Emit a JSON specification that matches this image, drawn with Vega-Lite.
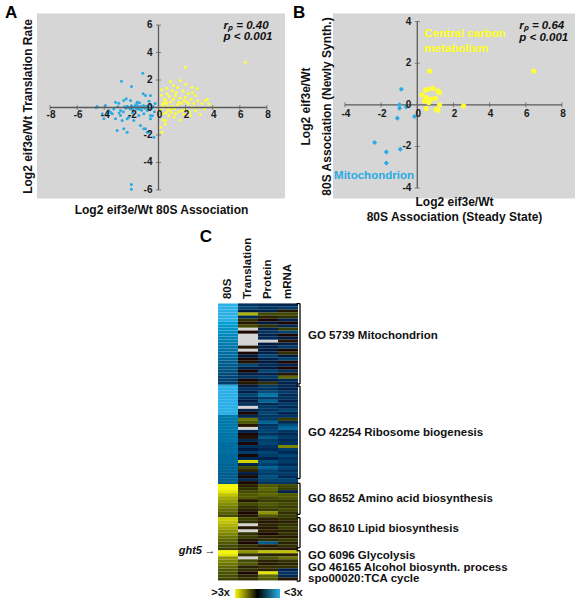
{
"$schema": "https://vega.github.io/schema/vega-lite/v6.json",
"padding": {"left": 5, "top": 3.5, "right": 0, "bottom": 0},
"bounds": "flush",
"spacing": 289.5,
"config": {"font": "Liberation Sans", "view": {"stroke": null}, "axis": {"domain": false, "ticks": false, "labels": false, "grid": false, "titleFontSize": 12, "titleFontWeight": "bold", "titleColor": "#111"}},
"datasets": {
"ptsA": [
{"x":-4.6,"y":0.0,"g":"d"},{"x":-4.52,"y":0.07,"g":"d"},{"x":-4.15,"y":-0.46,"g":"d"},{"x":-4.03,"y":-0.82,"g":"d"},{"x":-3.91,"y":0.15,"g":"d"},{"x":-3.78,"y":-0.46,"g":"d"},{"x":-3.67,"y":-0.22,"g":"d"},{"x":-3.54,"y":-0.34,"g":"d"},{"x":-3.41,"y":-0.46,"g":"d"},{"x":-3.17,"y":0.39,"g":"d"},{"x":-3.17,"y":-0.82,"g":"d"},{"x":-3.05,"y":-1.67,"g":"d"},{"x":-2.93,"y":0.31,"g":"d"},{"x":-2.8,"y":-0.58,"g":"d"},{"x":-2.8,"y":-0.22,"g":"d"},{"x":-2.73,"y":1.91,"g":"d"},{"x":-2.68,"y":-0.95,"g":"d"},{"x":-2.56,"y":0.51,"g":"d"},{"x":-2.56,"y":-1.55,"g":"d"},{"x":-2.38,"y":0.63,"g":"d"},{"x":-2.31,"y":-0.82,"g":"d"},{"x":-2.31,"y":-1.8,"g":"d"},{"x":-2.19,"y":-0.7,"g":"d"},{"x":-2.06,"y":0.51,"g":"d"},{"x":-1.99,"y":1.53,"g":"d"},{"x":-1.94,"y":0.02,"g":"d"},{"x":-1.82,"y":-0.95,"g":"d"},{"x":-1.57,"y":0.39,"g":"d"},{"x":-1.57,"y":-0.1,"g":"d"},{"x":-1.45,"y":-0.58,"g":"d"},{"x":-1.33,"y":-1.31,"g":"d"},{"x":-1.2,"y":0.02,"g":"d"},{"x":-1.16,"y":2.5,"g":"d"},{"x":-1.13,"y":1.0,"g":"d"},{"x":-1.08,"y":-0.46,"g":"d"},{"x":-1.08,"y":-1.55,"g":"d"},{"x":-0.96,"y":0.87,"g":"d"},{"x":-0.96,"y":-1.55,"g":"d"},{"x":-0.83,"y":-0.22,"g":"d"},{"x":-0.83,"y":-1.8,"g":"d"},{"x":-0.72,"y":-1.8,"g":"d"},{"x":-0.59,"y":0.87,"g":"d"},{"x":-0.59,"y":-0.58,"g":"d"},{"x":-0.59,"y":-0.82,"g":"d"},{"x":-0.34,"y":-2.16,"g":"d"},{"x":-2.0,"y":-5.6,"g":"d"},{"x":-2.0,"y":-5.95,"g":"d"},
{"x":-2.5,"y":0.05,"g":"d"},{"x":-2.4,"y":-0.05,"g":"d"},{"x":-2.3,"y":0.1,"g":"d"},{"x":-2.2,"y":0.0,"g":"d"},{"x":-2.1,"y":-0.1,"g":"d"},{"x":-2.0,"y":0.12,"g":"d"},{"x":-1.9,"y":-0.15,"g":"d"},{"x":-1.8,"y":0.05,"g":"d"},{"x":-1.7,"y":0.15,"g":"d"},{"x":-1.65,"y":-0.05,"g":"d"},{"x":-1.5,"y":0.1,"g":"d"},{"x":-1.4,"y":-0.12,"g":"d"},{"x":-1.3,"y":0.08,"g":"d"},{"x":-1.25,"y":-0.2,"g":"d"},{"x":-1.1,"y":0.15,"g":"d"},{"x":-1.0,"y":-0.05,"g":"d"},{"x":-0.9,"y":0.1,"g":"d"},{"x":-0.8,"y":0.02,"g":"d"},{"x":-0.7,"y":-0.1,"g":"d"},{"x":-0.6,"y":0.2,"g":"d"},{"x":-0.5,"y":-0.05,"g":"d"},{"x":-0.4,"y":0.08,"g":"d"},{"x":-0.3,"y":-0.3,"g":"d"},{"x":-0.25,"y":0.3,"g":"d"},{"x":-1.6,"y":0.3,"g":"d"},{"x":-1.4,"y":0.35,"g":"d"},{"x":-2.6,"y":-0.3,"g":"d"},{"x":-1.9,"y":-0.4,"g":"d"},{"x":-0.7,"y":0.45,"g":"d"},{"x":-0.45,"y":-0.6,"g":"d"},{"x":-3.3,"y":-0.1,"g":"d"},{"x":-3.0,"y":0.05,"g":"d"},{"x":-2.9,"y":-0.4,"g":"d"},
{"x":6.42,"y":3.3,"g":"u"},{"x":1.99,"y":2.93,"g":"u"},{"x":1.62,"y":1.96,"g":"u"},{"x":2.48,"y":1.48,"g":"u"},{"x":2.85,"y":1.36,"g":"u"},{"x":1.01,"y":1.24,"g":"u"},{"x":0.64,"y":1.0,"g":"u"},{"x":1.25,"y":0.87,"g":"u"},{"x":1.99,"y":0.75,"g":"u"},{"x":2.73,"y":0.87,"g":"u"},{"x":0.52,"y":0.51,"g":"u"},{"x":1.5,"y":0.39,"g":"u"},{"x":2.23,"y":0.27,"g":"u"},{"x":3.47,"y":0.51,"g":"u"},{"x":3.71,"y":0.27,"g":"u"},{"x":4.08,"y":0.02,"g":"u"},{"x":0.39,"y":0.02,"g":"u"},{"x":0.88,"y":-0.1,"g":"u"},{"x":1.75,"y":-0.22,"g":"u"},{"x":2.48,"y":0.02,"g":"u"},{"x":0.27,"y":-0.46,"g":"u"},{"x":0.52,"y":-0.95,"g":"u"},{"x":0.15,"y":-1.43,"g":"u"},{"x":0.27,"y":-1.8,"g":"u"},{"x":0.76,"y":-0.58,"g":"u"},{"x":1.25,"y":-0.46,"g":"u"},{"x":2.36,"y":-0.58,"g":"u"},{"x":2.73,"y":-0.22,"g":"u"},
{"x":0.3,"y":0.2,"g":"u"},{"x":0.45,"y":0.6,"g":"u"},{"x":0.6,"y":0.3,"g":"u"},{"x":0.7,"y":-0.2,"g":"u"},{"x":0.8,"y":0.8,"g":"u"},{"x":0.9,"y":0.4,"g":"u"},{"x":1.0,"y":0.1,"g":"u"},{"x":1.1,"y":0.6,"g":"u"},{"x":1.2,"y":-0.1,"g":"u"},{"x":1.3,"y":1.1,"g":"u"},{"x":1.4,"y":0.2,"g":"u"},{"x":1.5,"y":-0.3,"g":"u"},{"x":1.6,"y":0.7,"g":"u"},{"x":1.7,"y":0.3,"g":"u"},{"x":1.8,"y":1.2,"g":"u"},{"x":1.9,"y":0.5,"g":"u"},{"x":2.0,"y":-0.1,"g":"u"},{"x":2.1,"y":0.4,"g":"u"},{"x":2.2,"y":1.0,"g":"u"},{"x":2.3,"y":-0.3,"g":"u"},{"x":2.4,"y":0.6,"g":"u"},{"x":2.6,"y":0.3,"g":"u"},{"x":2.9,"y":0.5,"g":"u"},{"x":3.0,"y":0.0,"g":"u"},{"x":3.2,"y":0.3,"g":"u"},{"x":3.4,"y":-0.1,"g":"u"},{"x":3.6,"y":0.6,"g":"u"},{"x":1.1,"y":1.6,"g":"u"},{"x":0.9,"y":1.9,"g":"u"},{"x":1.4,"y":1.45,"g":"u"},{"x":2.0,"y":1.7,"g":"u"},{"x":0.35,"y":-0.9,"g":"u"},{"x":0.5,"y":-1.2,"g":"u"},{"x":0.6,"y":1.4,"g":"u"},{"x":0.2,"y":0.9,"g":"u"},{"x":0.15,"y":-0.2,"g":"u"},{"x":0.55,"y":-0.4,"g":"u"},{"x":1.15,"y":-0.7,"g":"u"},{"x":1.85,"y":-0.5,"g":"u"},{"x":3.1,"y":-0.5,"g":"u"},{"x":0.25,"y":1.3,"g":"u"},{"x":0.7,"y":0.05,"g":"u"},{"x":1.6,"y":-0.9,"g":"u"},{"x":2.5,"y":1.1,"g":"u"},{"x":0.4,"y":0.35,"g":"u"},{"x":0.95,"y":-0.35,"g":"u"}
],
"ptsB": [
{"x":-0.98,"y":0.0,"g":"d"},{"x":-0.98,"y":-0.16,"g":"d"},{"x":-0.61,"y":-0.1,"g":"d"},{"x":-1.1,"y":-0.64,"g":"d"},{"x":-0.15,"y":-0.56,"g":"d"},{"x":-0.88,"y":0.75,"g":"d"},{"x":-2.36,"y":-1.81,"g":"d"},{"x":-1.71,"y":-2.26,"g":"d"},{"x":-1.71,"y":-2.8,"g":"d"},{"x":-0.94,"y":-2.13,"g":"d"},
{"x":0.68,"y":1.63,"g":"u"},{"x":6.43,"y":1.63,"g":"u"},{"x":0.46,"y":0.71,"g":"u"},{"x":0.59,"y":0.75,"g":"u"},{"x":0.87,"y":0.8,"g":"u"},{"x":1.14,"y":0.67,"g":"u"},{"x":0.26,"y":0.48,"g":"u"},{"x":0.5,"y":0.35,"g":"u"},{"x":0.77,"y":0.27,"g":"u"},{"x":1.0,"y":0.32,"g":"u"},{"x":0.63,"y":0.11,"g":"u"},{"x":0.4,"y":0.19,"g":"u"},{"x":1.23,"y":0.0,"g":"u"},{"x":1.05,"y":-0.21,"g":"u"},{"x":1.14,"y":-0.26,"g":"u"},{"x":0.5,"y":-0.18,"g":"u"},{"x":2.56,"y":-0.05,"g":"u"},{"x":1.23,"y":0.59,"g":"u"}
],
"hm": [
{"r":0,"a":-1.6,"t":-0.4,"p":-0.3,"m":-0.2},{"r":1,"a":-1.6,"t":-0.6,"p":-0.4,"m":-0.5},{"r":2,"a":-1.6,"t":-0.1,"p":-0.2,"m":0.1},{"r":3,"a":-1.6,"t":1.2,"p":0.5,"m":0.5},{"r":4,"a":-1.6,"t":-0.3,"p":0.2,"m":0.3},{"r":5,"a":-1.6,"t":0.3,"p":0.0,"m":-0.2},{"r":6,"a":-1.45,"t":0.1,"p":-0.1,"m":0.0},{"r":7,"a":-1.4,"t":0.5,"p":0.3,"m":-0.3},{"r":8,"a":-1.35,"t":null,"p":-0.2,"m":0.4},{"r":9,"a":-1.3,"t":0.0,"p":-0.4,"m":-0.6},
{"r":10,"a":-1.25,"t":null,"p":-0.2,"m":0.0},{"r":11,"a":-1.2,"t":null,"p":-0.3,"m":-0.1},{"r":12,"a":-1.16,"t":null,"p":null,"m":0.1},{"r":13,"a":-1.12,"t":null,"p":-0.1,"m":-0.2},{"r":14,"a":-1.08,"t":0.1,"p":-0.2,"m":-0.5},{"r":15,"a":-1.04,"t":null,"p":-0.1,"m":0.0},{"r":16,"a":-1.0,"t":0.0,"p":-0.2,"m":0.3},{"r":17,"a":-0.95,"t":-0.1,"p":-0.6,"m":-0.1},{"r":18,"a":-0.9,"t":0.0,"p":-0.2,"m":-0.6},{"r":19,"a":-0.85,"t":0.05,"p":-0.1,"m":0.0},
{"r":20,"a":-0.8,"t":-0.6,"p":-0.3,"m":-0.2},{"r":21,"a":-0.75,"t":-0.1,"p":-0.1,"m":0.0},{"r":22,"a":-0.7,"t":0.0,"p":-0.6,"m":-0.4},{"r":23,"a":-0.65,"t":-0.2,"p":-0.2,"m":0.1},{"r":24,"a":-0.6,"t":-0.4,"p":-0.5,"m":0.7},{"r":25,"a":-0.55,"t":0.0,"p":-0.1,"m":-0.3},{"r":26,"a":-0.5,"t":0.1,"p":0.3,"m":-0.2},
{"r":27,"a":-1.6,"t":-0.1,"p":-0.5,"m":-0.3},{"r":28,"a":-1.6,"t":-0.4,"p":-0.4,"m":-0.2},{"r":29,"a":-1.6,"t":-0.2,"p":-0.7,"m":-0.5},{"r":30,"a":-1.6,"t":-0.6,"p":-1.1,"m":-0.3},{"r":31,"a":-1.6,"t":-0.3,"p":-0.5,"m":-0.4},{"r":32,"a":-1.6,"t":-0.1,"p":-0.9,"m":-0.2},{"r":33,"a":-1.6,"t":-0.4,"p":-0.3,"m":-0.5},{"r":34,"a":-1.6,"t":null,"p":-0.5,"m":-0.3},{"r":35,"a":-1.6,"t":-0.2,"p":-0.4,"m":-0.6},{"r":36,"a":-1.6,"t":0.0,"p":-0.6,"m":-0.2},
{"r":37,"a":-1.1,"t":-0.3,"p":-0.4,"m":-0.4},{"r":38,"a":-1.1,"t":0.8,"p":-0.5,"m":0.4},{"r":39,"a":-1.1,"t":0.6,"p":-0.9,"m":-0.3},{"r":40,"a":-1.1,"t":0.1,"p":-0.4,"m":-0.7},{"r":41,"a":-1.1,"t":null,"p":-0.5,"m":-1.0},{"r":42,"a":-1.1,"t":-0.2,"p":-0.6,"m":-0.4},{"r":43,"a":-1.05,"t":0.0,"p":-0.4,"m":-0.3},{"r":44,"a":-1.05,"t":0.05,"p":-0.8,"m":-0.5},{"r":45,"a":-1.05,"t":-0.3,"p":-0.5,"m":-0.3},{"r":46,"a":-1.0,"t":0.0,"p":-0.6,"m":-0.4},
{"r":47,"a":-1.0,"t":-0.4,"p":-0.4,"m":0.9},{"r":48,"a":-1.0,"t":-0.1,"p":-0.3,"m":-0.5},{"r":49,"a":-1.0,"t":-0.5,"p":-0.6,"m":-0.3},{"r":50,"a":-0.95,"t":0.0,"p":-0.5,"m":-0.6},{"r":51,"a":-0.95,"t":-0.3,"p":-0.2,"m":-0.4},{"r":52,"a":-0.95,"t":1.4,"p":-0.7,"m":-0.5},{"r":53,"a":-0.9,"t":-0.2,"p":-0.5,"m":-0.3},{"r":54,"a":-0.9,"t":0.5,"p":-0.9,"m":-0.6},{"r":55,"a":-0.9,"t":0.2,"p":-0.6,"m":-0.4},{"r":56,"a":-0.85,"t":-0.1,"p":-0.5,"m":-0.5},
{"r":57,"a":-0.85,"t":0.0,"p":-0.7,"m":-0.3},{"r":58,"a":-0.85,"t":-0.3,"p":-0.6,"m":-0.6},{"r":59,"a":-0.8,"t":0.0,"p":-0.4,"m":-0.4},
{"r":60,"a":1.6,"t":0.2,"p":0.6,"m":0.5},{"r":61,"a":1.6,"t":0.3,"p":0.7,"m":0.4},{"r":62,"a":1.5,"t":0.5,"p":0.6,"m":-0.2},{"r":63,"a":1.3,"t":0.6,"p":0.7,"m":0.6},{"r":64,"a":1.15,"t":0.6,"p":0.5,"m":0.6},{"r":65,"a":1.05,"t":0.1,"p":0.4,"m":0.4},{"r":66,"a":0.95,"t":0.5,"p":0.6,"m":0.5},{"r":67,"a":0.85,"t":0.3,"p":0.5,"m":0.4},{"r":68,"a":0.75,"t":0.2,"p":0.4,"m":0.5},{"r":69,"a":0.65,"t":0.0,"p":1.0,"m":0.3},{"r":70,"a":0.5,"t":0.1,"p":0.6,"m":0.4},
{"r":71,"a":1.35,"t":0.4,"p":0.2,"m":0.3},{"r":72,"a":1.3,"t":0.3,"p":0.1,"m":0.2},{"r":73,"a":1.2,"t":null,"p":0.2,"m":0.3},{"r":74,"a":1.1,"t":0.1,"p":0.1,"m":0.4},{"r":75,"a":1.0,"t":null,"p":0.2,"m":0.2},{"r":76,"a":0.9,"t":0.3,"p":0.0,"m":0.3},{"r":77,"a":0.8,"t":0.4,"p":0.2,"m":0.1},{"r":78,"a":0.7,"t":0.1,"p":0.3,"m":0.4},{"r":79,"a":0.6,"t":0.0,"p":-0.8,"m":0.2},{"r":80,"a":0.5,"t":0.3,"p":0.1,"m":0.3},{"r":81,"a":0.4,"t":0.2,"p":0.2,"m":0.1},
{"r":82,"a":1.6,"t":1.0,"p":1.3,"m":1.3},{"r":83,"a":1.5,"t":0.3,"p":0.2,"m":0.2},{"r":84,"a":1.0,"t":null,"p":0.6,"m":0.8},{"r":85,"a":0.9,"t":0.5,"p":0.2,"m":0.3},{"r":86,"a":0.8,"t":0.6,"p":0.1,"m":0.2},{"r":87,"a":0.7,"t":0.2,"p":0.3,"m":0.3},{"r":88,"a":0.6,"t":0.3,"p":0.2,"m":-0.2},{"r":89,"a":0.55,"t":0.0,"p":1.5,"m":-0.4},{"r":90,"a":0.5,"t":0.2,"p":0.7,"m":-0.3},{"r":91,"a":0.45,"t":0.3,"p":0.6,"m":0.1}
]
},
"vconcat": [
{"hconcat": [
{"width": 248, "height": 185, "view": {"fill": "#d6d6d6", "stroke": null},
"layer": [
{"data": {"name": "ptsA"}, "mark": {"type": "circle", "size": 9, "opacity": 1},
 "encoding": {
  "x": {"field": "x", "type": "quantitative", "title": "Log2 eif3e/Wt  80S Association", "scale": {"domain": [-8.96, 9.33], "nice": false, "zero": false}, "axis": {"titlePadding": 6}},
  "y": {"field": "y", "type": "quantitative", "title": "Log2 eif3e/Wt  Translation Rate", "scale": {"domain": [-6.62, 6.84], "nice": false, "zero": false}, "axis": {"titlePadding": 3}},
  "color": {"field": "g", "type": "nominal", "scale": {"domain": ["d", "u"], "range": ["#29abe2", "#ffff33"]}, "legend": null}}},
{"data": {"values": [{"x": -8, "x2": 8, "y": 0, "y2": 0}, {"x": 0, "x2": 0, "y": -6, "y2": 6}]}, "mark": {"type": "rule", "color": "#5a5a5a", "strokeWidth": 1.3},
 "encoding": {"x": {"field": "x", "type": "quantitative", "title": "Log2 eif3e/Wt  80S Association"}, "x2": {"field": "x2"}, "y": {"field": "y", "type": "quantitative", "title": "Log2 eif3e/Wt  Translation Rate"}, "y2": {"field": "y2"}}},
{"data": {"values": [{"v": -8}, {"v": -6}, {"v": -4}, {"v": -2}, {"v": 2}, {"v": 4}, {"v": 6}, {"v": 8}]}, "mark": {"type": "tick", "orient": "vertical", "size": 5, "thickness": 1, "color": "#5a5a5a"},
 "encoding": {"x": {"field": "v", "type": "quantitative", "title": "Log2 eif3e/Wt  80S Association"}, "y": {"datum": 0, "title": "Log2 eif3e/Wt  Translation Rate"}}},
{"data": {"values": [{"v": -6}, {"v": -4}, {"v": -2}, {"v": 2}, {"v": 4}, {"v": 6}]}, "mark": {"type": "tick", "orient": "horizontal", "size": 5, "thickness": 1, "color": "#5a5a5a"},
 "encoding": {"y": {"field": "v", "type": "quantitative", "title": "Log2 eif3e/Wt  Translation Rate"}, "x": {"datum": 0, "title": "Log2 eif3e/Wt  80S Association"}}},
{"data": {"values": [{"v": -8}, {"v": -6}, {"v": -4}, {"v": -2}, {"v": 0}, {"v": 2}, {"v": 4}, {"v": 6}, {"v": 8}]}, "mark": {"type": "text", "fontSize": 10, "fontWeight": "bold", "color": "#1a1a1a", "baseline": "middle", "dx": 1},
 "encoding": {"x": {"field": "v", "type": "quantitative", "title": "Log2 eif3e/Wt  80S Association"}, "y": {"datum": -0.58, "title": "Log2 eif3e/Wt  Translation Rate"}, "text": {"field": "v", "type": "nominal"}}},
{"data": {"values": [{"v": -6}, {"v": -4}, {"v": -2}, {"v": 0}, {"v": 2}, {"v": 4}, {"v": 6}]}, "mark": {"type": "text", "fontSize": 10, "fontWeight": "bold", "color": "#1a1a1a", "baseline": "middle", "align": "right"},
 "encoding": {"y": {"field": "v", "type": "quantitative", "title": "Log2 eif3e/Wt  Translation Rate"}, "x": {"datum": -0.44, "title": "Log2 eif3e/Wt  80S Association"}, "text": {"field": "v", "type": "nominal"}}},
{"data": {"values": [{"x": 4.8, "y": 5.96, "t": "rₚ = 0.40"}, {"x": 4.8, "y": 5.16, "t": "p < 0.001"}]}, "mark": {"type": "text", "fontSize": 11.5, "fontWeight": "bold", "fontStyle": "italic", "align": "left", "baseline": "middle", "color": "#111"},
 "encoding": {"x": {"field": "x", "type": "quantitative", "title": "Log2 eif3e/Wt  80S Association"}, "y": {"field": "y", "type": "quantitative", "title": "Log2 eif3e/Wt  Translation Rate"}, "text": {"field": "t"}}},
{"data": {"values": [{"x": -11.32, "y": 7.49, "t": "A"}]}, "mark": {"type": "text", "fontSize": 17, "fontWeight": "bold", "align": "left", "baseline": "top", "color": "#000"},
 "encoding": {"x": {"field": "x", "type": "quantitative", "title": "Log2 eif3e/Wt  80S Association"}, "y": {"field": "y", "type": "quantitative", "title": "Log2 eif3e/Wt  Translation Rate"}, "text": {"field": "t"}}}
]},
{"width": 242, "height": 185, "view": {"fill": "#d6d6d6", "stroke": null},
"layer": [
{"data": {"values": [{"x": -4, "x2": 8, "y": 0, "y2": 0}, {"x": 0, "x2": 0, "y": -4, "y2": 4}]}, "mark": {"type": "rule", "color": "#5a5a5a", "strokeWidth": 1.3},
 "encoding": {"x": {"field": "x", "type": "quantitative", "title": ["Log2 eif3e/Wt", "80S Association (Steady State)"], "scale": {"domain": [-4.66, 8.72], "nice": false, "zero": false}, "axis": {"titlePadding": -2, "titleLineHeight": 14.5}}, "x2": {"field": "x2"},
  "y": {"field": "y", "type": "quantitative", "title": ["Log2 eif3e/Wt", "80S Association (Newly Synth.)"], "scale": {"domain": [-4.5, 4.39], "nice": false, "zero": false}, "axis": {"titlePadding": 0, "titleLineHeight": 21}}, "y2": {"field": "y2"}}},
{"data": {"name": "ptsB"}, "mark": {"type": "point", "filled": true, "size": 26, "opacity": 1},
 "encoding": {"x": {"field": "x", "type": "quantitative", "title": ["Log2 eif3e/Wt", "80S Association (Steady State)"]}, "y": {"field": "y", "type": "quantitative", "title": ["Log2 eif3e/Wt", "80S Association (Newly Synth.)"]},
  "color": {"field": "g", "type": "nominal", "scale": {"domain": ["d", "u"], "range": ["#29abe2", "#ffff1a"]}, "legend": null},
  "shape": {"field": "g", "type": "nominal", "scale": {"domain": ["d", "u"], "range": ["diamond", "circle"]}, "legend": null}}},
{"data": {"values": [{"v": -4}, {"v": -2}, {"v": 2}, {"v": 4}, {"v": 6}, {"v": 8}]}, "mark": {"type": "tick", "orient": "vertical", "size": 5, "thickness": 1, "color": "#5a5a5a"},
 "encoding": {"x": {"field": "v", "type": "quantitative", "title": ["Log2 eif3e/Wt", "80S Association (Steady State)"]}, "y": {"datum": 0, "title": ["Log2 eif3e/Wt", "80S Association (Newly Synth.)"]}}},
{"data": {"values": [{"v": -4}, {"v": -2}, {"v": 2}, {"v": 4}]}, "mark": {"type": "tick", "orient": "horizontal", "size": 5, "thickness": 1, "color": "#5a5a5a"},
 "encoding": {"y": {"field": "v", "type": "quantitative", "title": ["Log2 eif3e/Wt", "80S Association (Newly Synth.)"]}, "x": {"datum": 0, "title": ["Log2 eif3e/Wt", "80S Association (Steady State)"]}}},
{"data": {"values": [{"v": -4}, {"v": -2}, {"v": 0}, {"v": 2}, {"v": 4}, {"v": 6}, {"v": 8}]}, "mark": {"type": "text", "fontSize": 10, "fontWeight": "bold", "color": "#1a1a1a", "baseline": "middle", "dx": 1},
 "encoding": {"x": {"field": "v", "type": "quantitative", "title": ["Log2 eif3e/Wt", "80S Association (Steady State)"]}, "y": {"datum": -0.45, "title": ["Log2 eif3e/Wt", "80S Association (Newly Synth.)"]}, "text": {"field": "v", "type": "nominal"}}},
{"data": {"values": [{"v": -4}, {"v": -2}, {"v": 0}, {"v": 2}, {"v": 4}]}, "mark": {"type": "text", "fontSize": 10, "fontWeight": "bold", "color": "#1a1a1a", "baseline": "middle", "align": "right"},
 "encoding": {"y": {"field": "v", "type": "quantitative", "title": ["Log2 eif3e/Wt", "80S Association (Newly Synth.)"]}, "x": {"datum": -0.33, "title": ["Log2 eif3e/Wt", "80S Association (Steady State)"]}, "text": {"field": "v", "type": "nominal"}}},
{"data": {"values": [{"x": 5.64, "y": 3.8, "t": "rₚ = 0.64"}, {"x": 5.64, "y": 3.22, "t": "p < 0.001"}]}, "mark": {"type": "text", "fontSize": 11.5, "fontWeight": "bold", "fontStyle": "italic", "align": "left", "baseline": "middle", "color": "#111"},
 "encoding": {"x": {"field": "x", "type": "quantitative", "title": ["Log2 eif3e/Wt", "80S Association (Steady State)"]}, "y": {"field": "y", "type": "quantitative", "title": ["Log2 eif3e/Wt", "80S Association (Newly Synth.)"]}, "text": {"field": "t"}}},
{"data": {"values": [{"x": 0.39, "y": 3.42, "t": "Central carbon"}, {"x": 0.39, "y": 2.69, "t": "metabolism"}]}, "mark": {"type": "text", "fontSize": 11.5, "fontWeight": "bold", "align": "left", "baseline": "middle", "color": "#ffff1a"},
 "encoding": {"x": {"field": "x", "type": "quantitative", "title": ["Log2 eif3e/Wt", "80S Association (Steady State)"]}, "y": {"field": "y", "type": "quantitative", "title": ["Log2 eif3e/Wt", "80S Association (Newly Synth.)"]}, "text": {"field": "t"}}},
{"data": {"values": [{"x": -4.6, "y": -3.42, "t": "Mitochondrion"}]}, "mark": {"type": "text", "fontSize": 11.5, "fontWeight": "bold", "align": "left", "baseline": "middle", "color": "#29abe2"},
 "encoding": {"x": {"field": "x", "type": "quantitative", "title": ["Log2 eif3e/Wt", "80S Association (Steady State)"]}, "y": {"field": "y", "type": "quantitative", "title": ["Log2 eif3e/Wt", "80S Association (Newly Synth.)"]}, "text": {"field": "t"}}},
{"data": {"values": [{"x": -6.87, "y": 4.82, "t": "B"}]}, "mark": {"type": "text", "fontSize": 17, "fontWeight": "bold", "align": "left", "baseline": "top", "color": "#000"},
 "encoding": {"x": {"field": "x", "type": "quantitative", "title": ["Log2 eif3e/Wt", "80S Association (Steady State)"]}, "y": {"field": "y", "type": "quantitative", "title": ["Log2 eif3e/Wt", "80S Association (Newly Synth.)"]}, "text": {"field": "t"}}}
]}
], "spacing": 48, "bounds": "flush"},
{"width": 538, "height": 298,
"layer": [
{"data": {"values": [{}]}, "mark": {"type": "rect", "color": "#d4d4d4"},
 "encoding": {"x": {"datum": 1, "scale": {"domain": [-9.05, 17.85], "nice": false, "zero": false}, "axis": null}, "x2": {"datum": 4}, "y": {"datum": 0, "scale": {"domain": [0, 99], "nice": false, "zero": false, "reverse": true}, "axis": null}, "y2": {"datum": 92}}},
{"data": {"name": "hm"}, "mark": {"type": "rect"},
 "encoding": {"x": {"datum": 0, "axis": null}, "x2": {"datum": 1}, "y": {"field": "r", "type": "quantitative", "bin": {"binned": true, "step": 1}, "axis": null},
  "color": {"field": "a", "type": "quantitative", "scale": {"domain": [-1.6, 0, 1.6], "range": ["#2ab0e6", "#000000", "#f7f700"], "clamp": true}, "legend": null}}},
{"data": {"name": "hm"}, "transform": [{"filter": "isValid(datum.t)"}], "mark": {"type": "rect"},
 "encoding": {"x": {"datum": 1, "axis": null}, "x2": {"datum": 2}, "y": {"field": "r", "type": "quantitative", "bin": {"binned": true, "step": 1}, "axis": null},
  "color": {"field": "t", "type": "quantitative", "legend": null}}},
{"data": {"name": "hm"}, "transform": [{"filter": "isValid(datum.p)"}], "mark": {"type": "rect"},
 "encoding": {"x": {"datum": 2, "axis": null}, "x2": {"datum": 3}, "y": {"field": "r", "type": "quantitative", "bin": {"binned": true, "step": 1}, "axis": null},
  "color": {"field": "p", "type": "quantitative", "legend": null}}},
{"data": {"name": "hm"}, "transform": [{"filter": "isValid(datum.m)"}], "mark": {"type": "rect"},
 "encoding": {"x": {"datum": 3, "axis": null}, "x2": {"datum": 4}, "y": {"field": "r", "type": "quantitative", "bin": {"binned": true, "step": 1}, "axis": null},
  "color": {"field": "m", "type": "quantitative", "legend": null}}},
{"data": {"values": [{"x": 0.5, "t": "80S"}, {"x": 1.5, "t": "Translation"}, {"x": 2.5, "t": "Protein"}, {"x": 3.5, "t": "mRNA"}]}, "mark": {"type": "text", "angle": 270, "align": "left", "baseline": "middle", "fontSize": 11.5, "fontWeight": "bold", "color": "#111"},
 "encoding": {"x": {"field": "x", "type": "quantitative", "axis": null}, "y": {"datum": -1.3, "axis": null}, "text": {"field": "t"}}},
{"data": {"values": [{"y1": 0.2, "y2": 26.9}, {"y1": 27.6, "y2": 58.3}, {"y1": 59.9, "y2": 70.2}, {"y1": 71.3, "y2": 81.3}, {"y1": 82.3, "y2": 92.4}]},
 "layer": [
  {"mark": {"type": "rule", "color": "#000", "strokeWidth": 1.3}, "encoding": {"x": {"datum": 4.1, "axis": null}, "y": {"field": "y1", "type": "quantitative", "axis": null}, "y2": {"field": "y2"}}},
  {"mark": {"type": "rule", "color": "#000", "strokeWidth": 1.3}, "encoding": {"x": {"datum": 3.93, "axis": null}, "x2": {"datum": 4.1}, "y": {"field": "y1", "type": "quantitative", "axis": null}}},
  {"mark": {"type": "rule", "color": "#000", "strokeWidth": 1.3}, "encoding": {"x": {"datum": 3.93, "axis": null}, "x2": {"datum": 4.1}, "y": {"field": "y2", "type": "quantitative", "axis": null}}}
 ]},
{"data": {"values": [{"y": 11, "t": "GO 5739 Mitochondrion"}, {"y": 43.3, "t": "GO 42254 Ribosome biogenesis"}, {"y": 65, "t": "GO 8652 Amino acid biosynthesis"}, {"y": 75, "t": "GO 8610 Lipid biosynthesis"}, {"y": 84, "t": "GO 6096 Glycolysis"}, {"y": 88, "t": "GO 46165 Alcohol biosynth. process"}, {"y": 91.7, "t": "spo00020:TCA cycle"}]},
 "mark": {"type": "text", "align": "left", "baseline": "middle", "fontSize": 11.5, "fontWeight": "bold", "color": "#111"},
 "encoding": {"x": {"datum": 4.5, "axis": null}, "y": {"field": "y", "type": "quantitative", "axis": null}, "text": {"field": "t"}}},
{"data": {"values": [{"x": -0.6, "y": -22, "t": "C"}]}, "mark": {"type": "text", "fontSize": 17, "fontWeight": "bold", "align": "center", "baseline": "middle", "color": "#000"},
 "encoding": {"x": {"field": "x", "type": "quantitative", "axis": null}, "y": {"field": "y", "type": "quantitative", "axis": null}, "text": {"field": "t"}}},
{"data": {"values": [{"x": -0.8, "y": 82.3, "t": "ght5"}]}, "mark": {"type": "text", "fontSize": 11, "fontWeight": "bold", "fontStyle": "italic", "align": "right", "baseline": "middle", "color": "#111"},
 "encoding": {"x": {"field": "x", "type": "quantitative", "axis": null}, "y": {"field": "y", "type": "quantitative", "axis": null}, "text": {"field": "t"}}},
{"data": {"values": [{"x": -0.12, "y": 82.3, "t": "→"}, {"x": 0.6, "y": 96.5, "t": ">3x"}]}, "mark": {"type": "text", "fontSize": 11, "fontWeight": "bold", "align": "right", "baseline": "middle", "color": "#111"},
 "encoding": {"x": {"field": "x", "type": "quantitative", "axis": null}, "y": {"field": "y", "type": "quantitative", "axis": null}, "text": {"field": "t"}}},
{"data": {"values": [{"x": 3.3, "y": 96.5, "t": "<3x"}]}, "mark": {"type": "text", "fontSize": 11, "fontWeight": "bold", "align": "left", "baseline": "middle", "color": "#111"},
 "encoding": {"x": {"field": "x", "type": "quantitative", "axis": null}, "y": {"field": "y", "type": "quantitative", "axis": null}, "text": {"field": "t"}}},
{"data": {"values": [{}]}, "mark": {"type": "rect", "fill": {"gradient": "linear", "x1": 0, "y1": 0, "x2": 1, "y2": 0, "stops": [{"offset": 0, "color": "#f7f700"}, {"offset": 0.5, "color": "#000000"}, {"offset": 1, "color": "#2ab0e6"}]}},
 "encoding": {"x": {"datum": 0.85, "axis": null}, "x2": {"datum": 3.1}, "y": {"datum": 95, "axis": null}, "y2": {"datum": 98}}}
]}
]
}
